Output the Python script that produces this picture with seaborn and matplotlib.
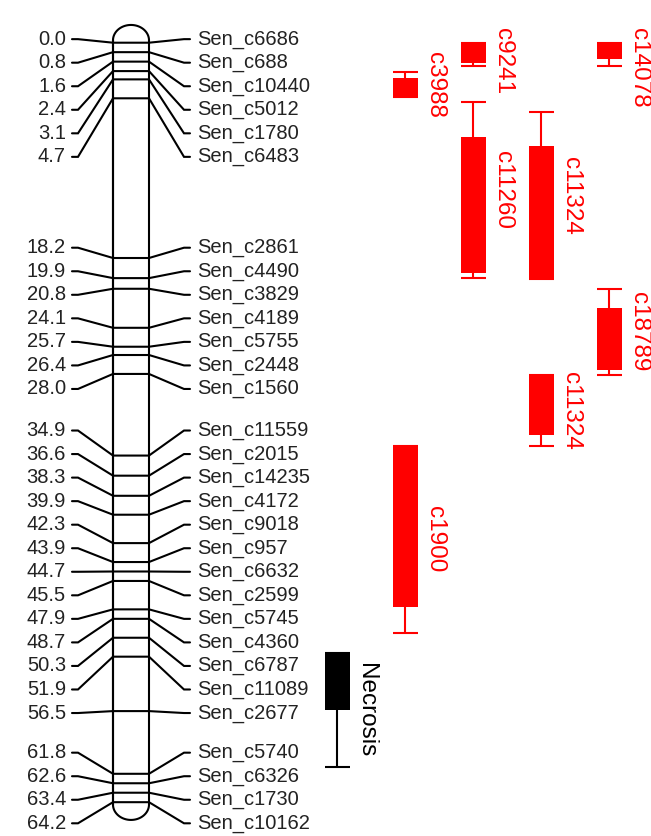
import numpy as np
import pandas as pd
import seaborn as sns
import matplotlib.pyplot as plt

# -----------------------------
# Data
# -----------------------------
marker_names = ['Sen_c6686', 'Sen_c688', 'Sen_c10440', 'Sen_c5012', 'Sen_c1780', 'Sen_c6483',
                'Sen_c2861', 'Sen_c4490', 'Sen_c3829', 'Sen_c4189', 'Sen_c5755', 'Sen_c2448',
                'Sen_c1560', 'Sen_c11559', 'Sen_c2015', 'Sen_c14235', 'Sen_c4172', 'Sen_c9018',
                'Sen_c957', 'Sen_c6632', 'Sen_c2599', 'Sen_c5745', 'Sen_c4360', 'Sen_c6787',
                'Sen_c11089', 'Sen_c2677', 'Sen_c5740', 'Sen_c6326', 'Sen_c1730', 'Sen_c10162']
marker_cm = [0.0, 0.8, 1.6, 2.4, 3.1, 4.7,
             18.2, 19.9, 20.8, 24.1, 25.7, 26.4,
             28.0, 34.9, 36.6, 38.3, 39.9, 42.3,
             43.9, 44.7, 45.5, 47.9, 48.7, 50.3,
             51.9, 56.5, 61.8, 62.6, 63.4, 64.2]

# QTL intervals (cM): outer = whiskers, inner = box
qtl_names = ['c3988', 'c9241', 'c14078', 'c11260', 'c11324', 'c18789', 'c11324', 'c1900', 'Necrosis']
qtl_column = [0, 1, 3, 1, 2, 3, 2, 0, -1]
qtl_outer_top = [2.5, 0.0, 0.0, 5.0, 5.9, 20.8, 28.1, 34.1, 51.6]
qtl_inner_top = [3.0, 0.0, 0.0, 8.0, 8.7, 22.4, 28.1, 34.2, 51.6]
qtl_inner_bot = [4.6, 1.7, 1.4, 19.5, 20.0, 27.7, 33.2, 47.7, 56.4]
qtl_outer_bot = [4.6, 2.0, 2.0, 19.9, 20.0, 28.1, 34.1, 49.9, 61.2]

qtl = pd.DataFrame({'name': qtl_names, 'col': qtl_column,
                    'outer_top': qtl_outer_top, 'inner_top': qtl_inner_top,
                    'inner_bot': qtl_inner_bot, 'outer_bot': qtl_outer_bot})
qtl['color'] = np.where(qtl['name'] == 'Necrosis', 'black', '#ff0000')

# -----------------------------
# Layout helpers
# -----------------------------
PX_PER_CM = 11.83
Y0 = 42.7           # pixel row of 0 cM
W, H = 651, 836
LABEL_GAP = 1.99    # cM between stacked labels


def spread_labels(pos, gap, top, iters=3000):
    y = np.array(pos, dtype=float)
    for _ in range(iters):
        for i in range(len(y) - 1):
            d = y[i + 1] - y[i]
            if d < gap:
                s = (gap - d) / 2
                y[i] -= s
                y[i + 1] += s
        if y[0] < top:
            y[0] = top
    return y


sns.set_theme(style='white')
plt.rcParams['font.family'] = ['Liberation Sans', 'DejaVu Sans']

fig = plt.figure(figsize=(W / 100, H / 100), dpi=100)
ax = fig.add_axes([0, 0, 1, 1])
ax.set_xlim(0, W)
ax.set_ylim((H - Y0) / PX_PER_CM, -Y0 / PX_PER_CM)
ax.axis('off')

lw = 1.5

# chromosome outline
cx, half = 131, 18
cap = 1.3
c_top = min(marker_cm) - 0.2
c_bot = max(marker_cm) + 0.2
t = np.linspace(np.pi, 0, 60)
xs = np.concatenate([[cx - half], cx + half * np.cos(t), [cx + half],
                     cx + half * np.cos(t[::-1]), [cx - half]])
ys = np.concatenate([[c_bot], c_top - cap * np.sin(t), [c_bot],
                     c_bot + cap * np.sin(t[::-1]), [c_bot]])
ax.plot(xs[:62], ys[:62], color='black', lw=lw)
ax.plot(xs[61:], ys[61:], color='black', lw=lw)
ax.plot([cx - half, cx - half], [c_top, c_bot], color='black', lw=lw)

# markers, connectors and labels
label_y = spread_labels(marker_cm, LABEL_GAP, -0.3)
for name, cm, ly in zip(marker_names, marker_cm, label_y):
    ax.plot([72, 78, cx - half, cx + half, 184, 190], [ly, ly, cm, cm, ly, ly],
            color='black', lw=lw, solid_joinstyle='miter')
    ax.text(66, ly, f'{cm:.1f}', ha='right', va='center', fontsize=14.5, color='#222222')
    ax.text(197, ly, name, ha='left', va='center', fontsize=14.5, color='#222222')

# QTL bars
bw = 25
qtl['x'] = 405 + 68 * qtl['col']
ax.bar(qtl['x'], qtl['inner_bot'] - qtl['inner_top'], bottom=qtl['inner_top'],
       width=bw, color=qtl['color'], linewidth=0)
ax.vlines(qtl['x'], qtl['outer_top'], qtl['inner_top'], colors=qtl['color'], lw=lw)
ax.vlines(qtl['x'], qtl['inner_bot'], qtl['outer_bot'], colors=qtl['color'], lw=lw)
ax.hlines(qtl['outer_top'], qtl['x'] - bw / 2, qtl['x'] + bw / 2, colors=qtl['color'], lw=lw)
ax.hlines(qtl['outer_bot'], qtl['x'] - bw / 2, qtl['x'] + bw / 2, colors=qtl['color'], lw=lw)

texts = []
for _, r in qtl.iterrows():
    tx = ax.text(r['x'] + bw / 2 + 6, (r['outer_top'] + r['outer_bot']) / 2, r['name'],
                 rotation=-90, ha='left', va='center', fontsize=17.5, color=r['color'])
    texts.append(tx)

# keep labels inside the top margin
fig.canvas.draw()
for tx in texts:
    bb = tx.get_window_extent()
    top_px = H - bb.y1
    if top_px < 28:
        x, y = tx.get_position()
        tx.set_position((x, y + (28 - top_px) / PX_PER_CM))

fig.savefig('out.png', dpi=100)
